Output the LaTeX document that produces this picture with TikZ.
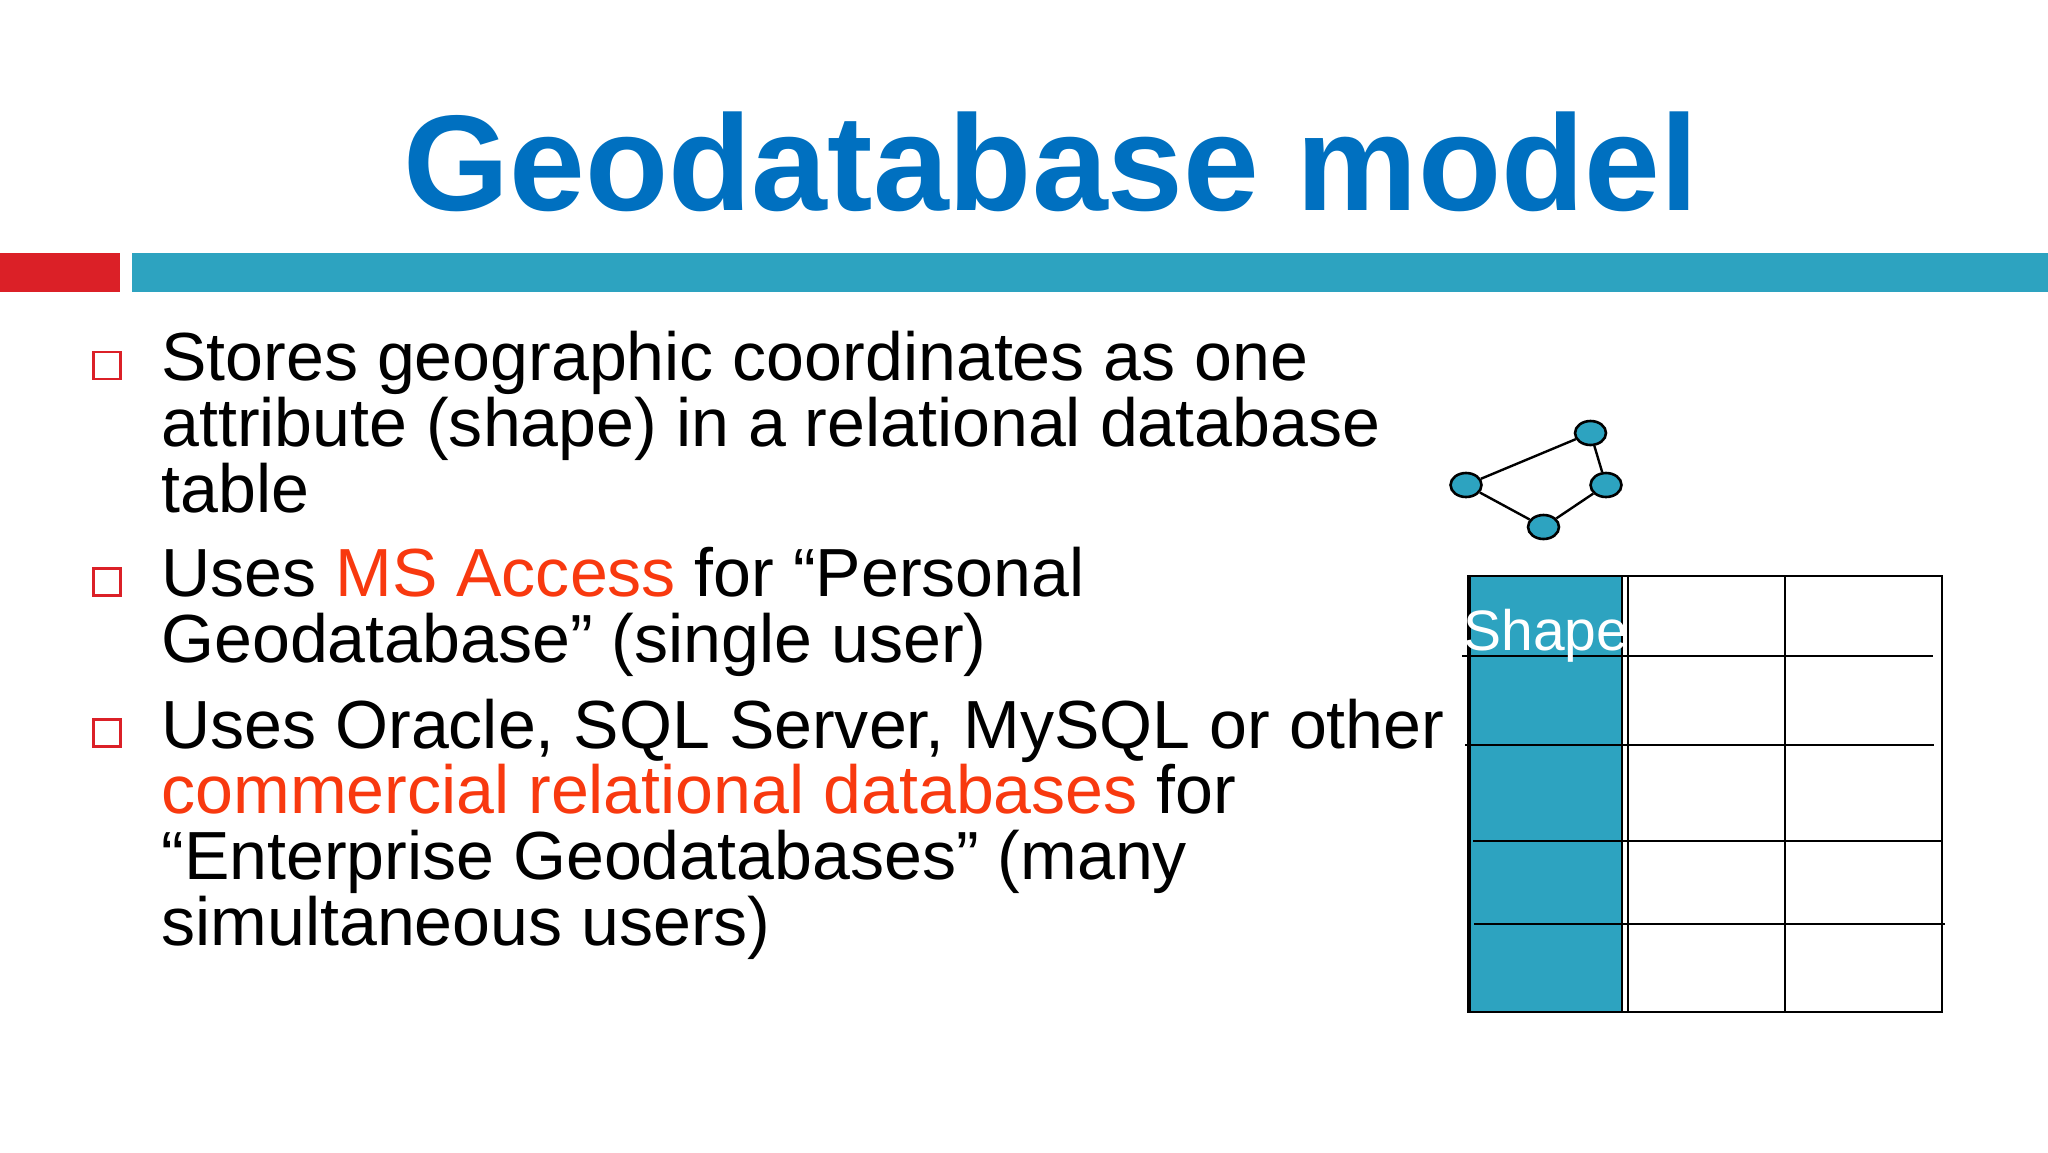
\documentclass[tikz,border=0pt]{standalone}
\usepackage{fontspec}
\setmainfont{Liberation Sans}
\usetikzlibrary{shapes.geometric}
\definecolor{titleblue}{HTML}{0070C0}
\definecolor{barteal}{HTML}{2DA3C0}
\definecolor{barred}{HTML}{DB2027}
\definecolor{accent}{HTML}{F8390F}
\tikzset{
  bodytext/.style={anchor=base west,align=left,inner sep=0pt,font=\fontsize{34.05}{32.8}\selectfont},
  bullet/.style={draw=barred,line width=1.3pt,fill=white,minimum size=13.5pt,inner sep=0pt},
  vertex/.style={ellipse,draw=black,fill=barteal,line width=1.3pt,minimum width=15.5pt,minimum height=12pt,inner sep=0pt},
  gridline/.style={draw=black,line width=1.2pt}
}
\begin{document}
\begin{tikzpicture}[x=0.5pt,y=-0.5pt]
      \useasboundingbox (0,0) rectangle (2048,1152);
      \node[anchor=base,inner sep=0pt,text=titleblue,font=\fontsize{68.1}{68}\selectfont\bfseries] (title) at (1051,210) {Geodatabase model};
      \fill[barred] (0,253) rectangle (120,292);
      \fill[barteal] (132,253) rectangle (2048,292);
      % bullets
      \node[bullet] (b1) at (107,365.5) {};
      \node[bullet] (b2) at (107,582) {};
      \node[bullet] (b3) at (107,733) {};
      \node[bodytext] (t1) at (161,512) {Stores geographic coordinates as one\\attribute (shape) in a relational database\\table};
      \node[bodytext] (t2) at (161,662) {Uses \textcolor{accent}{MS Access} for “Personal\\Geodatabase” (single user)};
      \node[bodytext] (t3) at (161,945) {Uses Oracle, SQL Server, MySQL or other\\\textcolor{accent}{commercial relational databases} for\\“Enterprise Geodatabases” (many\\simultaneous users)};
      % polygon
      \draw
        (1590.5,433) node[vertex] (n0){}
        (1606,485) node[vertex] (n1){}
        (1543.5,527) node[vertex] (n2){}
        (1466,485) node[vertex] (n3){};
      \begin{scope}[line width=1.2pt]
        \draw (n0) to (n1);
        \draw (n1) to (n2);
        \draw (n2) to (n3);
        \draw (n3) to (n0);
      \end{scope}
      % table
      \fill[barteal] (1470,576) rectangle (1622,1012);
      \draw[gridline] (1468,576) rectangle (1942,1012);
      \draw[line width=2.4pt] (1469,576) -- (1469,1012);
      \draw[gridline] (1622,576) -- (1622,1012);
      \draw[gridline] (1628,576) -- (1628,1012);
      \draw[gridline] (1785,576) -- (1785,1012);
      \draw[gridline] (1462,656) -- (1933,656);
      \draw[gridline] (1465,745) -- (1934,745);
      \draw[gridline] (1473,841) -- (1943,841);
      \draw[gridline] (1474,924) -- (1945,924);
      \node[anchor=base west,inner sep=0pt,text=white,font=\fontsize{28.5}{28.5}\selectfont] (shape) at (1463,650) {Shape};
\end{tikzpicture}
\end{document}
